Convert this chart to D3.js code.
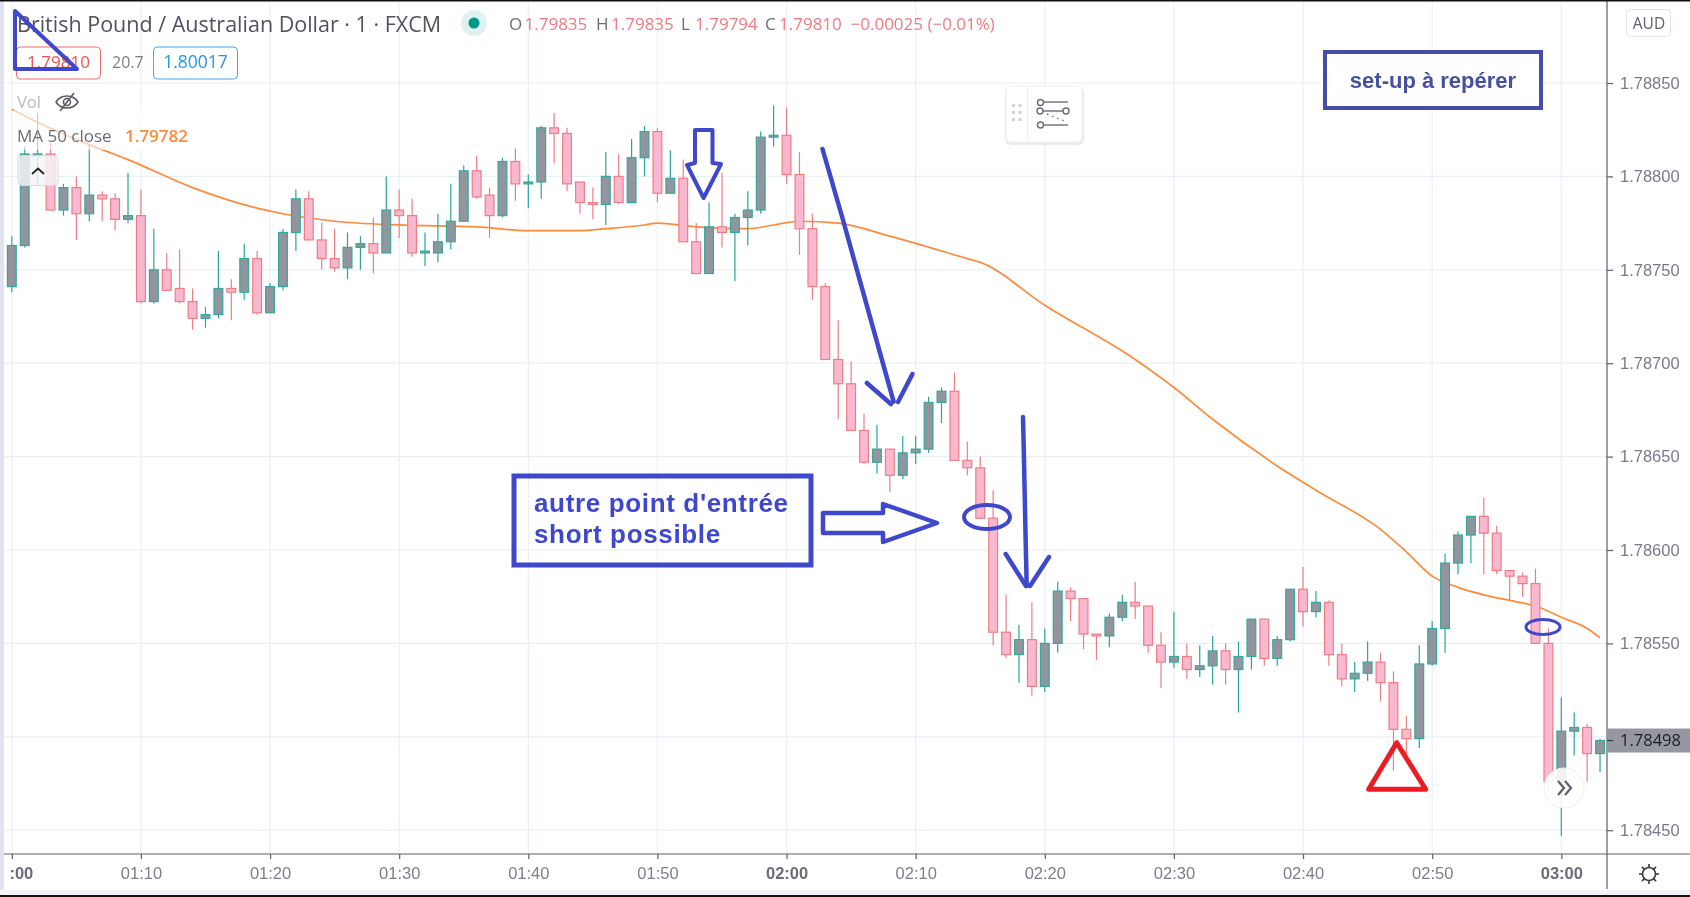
<!DOCTYPE html>
<html><head><meta charset="utf-8">
<script src="https://cdn.jsdelivr.net/npm/d3@7"></script>
<style>
html,body{margin:0;padding:0;background:#fff;overflow:hidden}
svg{display:block;font-family:"Open Sans","Noto Sans",sans-serif;filter:blur(0.35px)}
.axis path.domain{stroke:#5d606b;stroke-width:1.2}
.axis line{stroke:#5d606b;stroke-width:1.2}
</style></head><body>
<svg id="c" width="1690" height="897"></svg>
<script>
const opens=[1.78741,1.78763,1.78811,1.78812,1.78782,1.78794,1.78780,1.78790,1.78788,1.78777,
1.78779,1.78733,1.78750,1.78740,1.78733,1.78724,1.78726,1.78740,1.78738,1.78756,
1.78727,1.78741,1.78770,1.78788,1.78766,1.78756,1.78751,1.78762,1.78764,1.78759,
1.78782,1.78779,1.78759,1.78759,1.78765,1.78776,1.78803,1.78790,1.78779,1.78808,
1.78796,1.78797,1.78826,1.78823,1.78797,1.78786,1.78785,1.78800,1.78786,1.78810,
1.78824,1.78791,1.78799,1.78765,1.78748,1.78773,1.78770,1.78778,1.78782,1.78821,
1.78822,1.78801,1.78772,1.78741,1.78702,1.78689,1.78664,1.78647,1.78654,1.78640,
1.78652,1.78654,1.78679,1.78685,1.78648,1.78644,1.78617,1.78556,1.78544,1.78552,
1.78527,1.78550,1.78578,1.78574,1.78555,1.78554,1.78564,1.78572,1.78570,1.78549,
1.78540,1.78543,1.78536,1.78538,1.78546,1.78536,1.78543,1.78563,1.78542,1.78552,
1.78579,1.78567,1.78572,1.78544,1.78531,1.78534,1.78540,1.78529,1.78504,1.78499,
1.78539,1.78558,1.78593,1.78608,1.78618,1.78609,1.78589,1.78586,1.78582,1.78550,
1.78476,1.78503,1.78505,1.78491];
const highs=[1.78768,1.78816,1.78834,1.78818,1.78796,1.78800,1.78817,1.78792,1.78791,1.78802,
1.78793,1.78772,1.78759,1.78761,1.78740,1.78730,1.78760,1.78745,1.78764,1.78760,
1.78743,1.78772,1.78793,1.78792,1.78775,1.78772,1.78770,1.78768,1.78778,1.78800,
1.78793,1.78788,1.78770,1.78780,1.78796,1.78806,1.78811,1.78794,1.78810,1.78815,
1.78801,1.78827,1.78834,1.78826,1.78797,1.78794,1.78813,1.78812,1.78820,1.78827,
1.78826,1.78814,1.78809,1.78775,1.78786,1.78802,1.78780,1.78792,1.78824,1.78838,
1.78837,1.78813,1.78780,1.78743,1.78723,1.78701,1.78673,1.78667,1.78654,1.78661,
1.78661,1.78682,1.78687,1.78695,1.78658,1.78650,1.78632,1.78576,1.78560,1.78572,
1.78558,1.78583,1.78580,1.78574,1.78555,1.78566,1.78576,1.78583,1.78570,1.78556,
1.78567,1.78550,1.78549,1.78554,1.78550,1.78551,1.78563,1.78563,1.78554,1.78579,
1.78591,1.78578,1.78573,1.78550,1.78540,1.78551,1.78545,1.78535,1.78511,1.78549,
1.78562,1.78598,1.78610,1.78618,1.78628,1.78613,1.78589,1.78588,1.78590,1.78558,
1.78521,1.78513,1.78507,1.78499];
const lows=[1.78738,1.78762,1.78795,1.78782,1.78779,1.78766,1.78776,1.78776,1.78771,1.78775,
1.78732,1.78732,1.78739,1.78732,1.78718,1.78719,1.78724,1.78723,1.78734,1.78726,
1.78727,1.78739,1.78760,1.78766,1.78750,1.78749,1.78745,1.78750,1.78748,1.78759,
1.78767,1.78757,1.78752,1.78754,1.78761,1.78776,1.78788,1.78767,1.78778,1.78787,
1.78783,1.78788,1.78807,1.78792,1.78780,1.78777,1.78774,1.78785,1.78786,1.78800,
1.78786,1.78791,1.78765,1.78748,1.78748,1.78762,1.78744,1.78763,1.78780,1.78816,
1.78796,1.78758,1.78734,1.78702,1.78670,1.78664,1.78646,1.78641,1.78631,1.78638,
1.78646,1.78652,1.78668,1.78648,1.78640,1.78617,1.78549,1.78542,1.78529,1.78522,
1.78524,1.78545,1.78562,1.78547,1.78541,1.78548,1.78562,1.78563,1.78545,1.78526,
1.78537,1.78531,1.78532,1.78528,1.78528,1.78513,1.78536,1.78538,1.78538,1.78551,
1.78559,1.78564,1.78538,1.78527,1.78524,1.78530,1.78519,1.78482,1.78489,1.78494,
1.78538,1.78545,1.78587,1.78593,1.78587,1.78587,1.78573,1.78575,1.78550,1.78471,
1.78447,1.78490,1.78476,1.78481];
const closes=[1.78763,1.78812,1.78812,1.78782,1.78794,1.78780,1.78790,1.78788,1.78777,1.78779,
1.78733,1.78750,1.78739,1.78733,1.78724,1.78726,1.78740,1.78738,1.78756,1.78727,
1.78741,1.78770,1.78788,1.78766,1.78756,1.78751,1.78762,1.78764,1.78759,1.78782,
1.78779,1.78759,1.78760,1.78765,1.78776,1.78803,1.78789,1.78779,1.78808,1.78796,
1.78797,1.78826,1.78823,1.78796,1.78786,1.78785,1.78800,1.78786,1.78810,1.78824,
1.78791,1.78799,1.78765,1.78748,1.78773,1.78770,1.78778,1.78782,1.78821,1.78822,
1.78801,1.78772,1.78741,1.78702,1.78689,1.78664,1.78647,1.78654,1.78640,1.78652,
1.78654,1.78679,1.78685,1.78648,1.78644,1.78617,1.78556,1.78544,1.78552,1.78527,
1.78550,1.78578,1.78574,1.78555,1.78554,1.78564,1.78572,1.78570,1.78549,1.78540,
1.78543,1.78536,1.78538,1.78546,1.78536,1.78543,1.78563,1.78542,1.78552,1.78579,
1.78567,1.78572,1.78544,1.78531,1.78534,1.78540,1.78529,1.78504,1.78499,1.78539,
1.78558,1.78593,1.78608,1.78618,1.78609,1.78589,1.78586,1.78582,1.78550,1.78476,
1.78503,1.78505,1.78491,1.78498];
const maMinutes=[0,2,6,9,14,19,21,25,30,36,40,44,46,49,50,53,57,59,61,64,68,74,75,80,87,90,93,98,101,106,108,110,112,114,116,118,120,122,123];
const maValues=[1.78836,1.78829,1.78817,1.78809,1.78794,1.78783,1.78780,1.78776,1.78774,1.78773,1.78771,1.78771,1.78772,1.78774,1.78775,1.78773,1.78772,1.78774,1.78776,1.78775,1.78768,1.78756,1.78754,1.78731,1.78702,1.78687,1.78670,1.78645,1.78632,1.78611,1.78599,1.78586,1.78580,1.78576,1.78573,1.78570,1.78564,1.78558,1.78553];
const gridPrices=[1.7885,1.788,1.7875,1.787,1.7865,1.786,1.7855,1.785,1.7845];
const priceAxisTicks=[1.7885,1.788,1.7875,1.787,1.7865,1.786,1.7855,1.7845];
const timeTickMinutes=[0,10,20,30,40,50,60,70,80,90,100,110,120];
const timeTickLabels=[":00","01:10","01:20","01:30","01:40","01:50","02:00","02:10","02:20","02:30","02:40","02:50","03:00"];
const boldTimeLabels=[":00","02:00","03:00"];
const lastPrice=1.78498;

const BLUE="#3f48cc",UP="#26a69a",DOWN="#ef7d84",UPF="#93959e",DOWNF="#f8b8d0",GRID="#e9f0f6";
const PLOT_R=1607,AXIS_Y=854;
const x=d3.scaleLinear().domain([0,120]).range([11.8,1561.3]);
const y=d3.scaleLinear().domain([1.786,1.7885]).range([550,83]);
const svg=d3.select("#c");
svg.append("rect").attr("width",1690).attr("height",897).attr("fill","#fff");

// grid
const grid=svg.append("g").attr("stroke",GRID).attr("stroke-width",1.2);
grid.selectAll(".v").data(timeTickMinutes).join("line").attr("x1",d=>x(d)).attr("x2",d=>x(d)).attr("y1",2).attr("y2",AXIS_Y);
grid.selectAll(".h").data(gridPrices).join("line").attr("x1",4).attr("x2",PLOT_R).attr("y1",d=>y(d)).attr("y2",d=>y(d));

// moving average (behind the candles)
svg.append("path").datum(maMinutes.map((m,i)=>[m,maValues[i]]))
  .attr("fill","none").attr("stroke","#ff8a3c").attr("stroke-width",1.7)
  .attr("d",d3.line().x(d=>x(d[0])).y(d=>y(d[1])).curve(d3.curveMonotoneX));

// candles
const bars=opens.map((o,i)=>({i,o,h:highs[i],l:lows[i],c:closes[i],up:closes[i]>=o}));
const g=svg.append("g");
g.selectAll(".wick").data(bars).join("line")
  .attr("x1",d=>x(d.i)).attr("x2",d=>x(d.i)).attr("y1",d=>y(d.h)).attr("y2",d=>y(d.l))
  .attr("stroke",d=>d.up?UP:DOWN).attr("stroke-width",1.2);
g.selectAll(".body").data(bars).join("rect")
  .attr("x",d=>x(d.i)-4.4).attr("width",8.8)
  .attr("y",d=>y(Math.max(d.o,d.c)))
  .attr("height",d=>Math.max(1.2,Math.abs(y(d.o)-y(d.c))))
  .attr("fill",d=>d.up?UPF:DOWNF).attr("stroke",d=>d.up?"#35a89c":DOWN).attr("stroke-width",1.2);

// axes
svg.append("rect").attr("x",PLOT_R).attr("y",0).attr("width",83).attr("height",897).attr("fill","#fff");
svg.append("rect").attr("x",0).attr("y",AXIS_Y).attr("width",PLOT_R).attr("height",43).attr("fill","#fff");
const yAxis=d3.axisRight(y).tickValues(priceAxisTicks).tickFormat(d3.format(".5f")).tickSize(6).tickPadding(7);
const ya=svg.append("g").attr("class","axis").attr("transform",`translate(${PLOT_R},0)`).call(yAxis);
ya.select(".domain").attr("d",`M0,1V889`);
ya.selectAll("text").attr("fill","#787b86").style("font-size","16.5px");
const xAxis=d3.axisBottom(x).tickValues(timeTickMinutes).tickFormat((d,i)=>timeTickLabels[i]).tickSize(5).tickPadding(8);
const xa=svg.append("g").attr("class","axis").attr("transform",`translate(0,${AXIS_Y})`).call(xAxis);
xa.select(".domain").attr("d",`M4,0H1690`);
xa.selectAll("text").attr("fill",d=>boldTimeLabels.includes(timeTickLabels[timeTickMinutes.indexOf(d)])?"#6a6d78":"#7c7f8a")
  .attr("font-weight",d=>boldTimeLabels.includes(timeTickLabels[timeTickMinutes.indexOf(d)])?700:400).style("font-size","16.5px");
xa.selectAll("text").filter(d=>d===0).attr("text-anchor","end").attr("x",21);

// last price label
svg.append("rect").attr("x",PLOT_R).attr("y",y(lastPrice)-12).attr("width",83).attr("height",24).attr("fill","#9598a1");
svg.append("line").attr("x1",PLOT_R).attr("x2",PLOT_R+6).attr("y1",y(lastPrice)).attr("y2",y(lastPrice)).attr("stroke","#3a3d46").attr("stroke-width",1.2);
svg.append("text").attr("x",1620).attr("y",y(lastPrice)+5.5).attr("fill","#1a1d26").style("font-size","16.5px").text(d3.format(".5f")(lastPrice));

// chrome
svg.append("rect").attr("x",0).attr("y",0).attr("width",4).attr("height",897).attr("fill","#e0e3ef");
svg.append("rect").attr("x",0).attr("y",890).attr("width",1690).attr("height",5).attr("fill","#f0f3fa");
svg.append("rect").attr("x",0).attr("y",895).attr("width",1690).attr("height",2).attr("fill","#111");
svg.append("rect").attr("x",0).attr("y",0).attr("width",1690).attr("height",1.5).attr("fill","#111");

// AUD button
svg.append("rect").attr("x",1626.5).attr("y",9.5).attr("width",44).attr("height",27).attr("rx",4).attr("fill","#fff").attr("stroke","#dfe3ee");
svg.append("text").attr("x",1649).attr("y",29).attr("text-anchor","middle").attr("fill","#5d606b").style("font-size","15.5px").text("AUD");

// gear
const gear=svg.append("g").attr("transform","translate(1649,874)").attr("fill","none").attr("stroke","#3a3d46").attr("stroke-width",1.6);
gear.append("circle").attr("r",6.5);
d3.range(8).forEach(k=>{const a=k*Math.PI/4;gear.append("line").attr("x1",6.5*Math.cos(a)).attr("y1",6.5*Math.sin(a)).attr("x2",10*Math.cos(a)).attr("y2",10*Math.sin(a));});

// legend
const T=(xp,yp,s,f,sz,extra)=>{const t=svg.append("text").attr("x",xp).attr("y",yp).attr("fill",f).style("font-size",sz+"px").text(s);if(extra)extra(t);return t;};
svg.append("rect").attr("x",14).attr("y",108).attr("width",180).attr("height",42).attr("fill","#fff").attr("opacity",0.6);
T(17,32,"British Pound / Australian Dollar · 1 · FXCM","#50535e",21.5);
svg.append("circle").attr("cx",474).attr("cy",23).attr("r",13).attr("fill","#e0f2ef");
svg.append("circle").attr("cx",474).attr("cy",23).attr("r",5.5).attr("fill","#009688");
const R="#ef7b83",G="#6a6d78";
[["O",509,G],["1.79835",524.5,R],["H",596,G],["1.79835",611,R],["L",681,G],["1.79794",695,R],["C",765,G],["1.79810",779,R],["−0.00025 (−0.01%)",850.5,R]]
  .forEach(a=>T(a[1],30,a[0],a[2],17));
svg.append("rect").attr("x",16.5).attr("y",47).attr("width",84).attr("height",32).attr("rx",4).attr("fill","#fff").attr("stroke","#ef5350").attr("stroke-opacity",.85);
T(58.5,68,"1.79810","#ef5350",17,t=>t.attr("text-anchor","middle"));
T(112,68,"20.7","#7c7f8a",16);
svg.append("rect").attr("x",153.5).attr("y",47).attr("width",84).attr("height",32).attr("rx",4).attr("fill","#fff").attr("stroke","#2196f3").attr("stroke-opacity",.85);
T(195.5,68,"1.80017","#2196f3",17.5,t=>t.attr("text-anchor","middle"));
T(17,108,"Vol","#b6b9c2",16.5);
const eye=svg.append("g").attr("transform","translate(67,102)").attr("fill","none").attr("stroke","#55585f").attr("stroke-width",1.5);
eye.append("path").attr("d","M-11,0C-6,-8 6,-8 11,0C6,8 -6,8 -11,0Z");
eye.append("circle").attr("r",3.5);
eye.append("line").attr("x1",-7).attr("y1",9).attr("x2",7).attr("y2",-9);
T(17,142,"MA 50 close","#6a6d78",17);
T(125,142,"1.79782","#ff8a3c",17,t=>t.attr("font-weight",600));
svg.append("rect").attr("x",18).attr("y",155.5).attr("width",40).attr("height",30).attr("rx",4).attr("fill","#f4f5f7").attr("fill-opacity",.82).attr("stroke","#d8dae0");
svg.append("path").attr("d","M32,174L38,168.5L44,174").attr("fill","none").attr("stroke","#222").attr("stroke-width",1.8);

// settings panel
svg.append("rect").attr("x",1005).attr("y",87).attr("width",79).attr("height",58).attr("rx",6).attr("fill","#000").attr("opacity",.08);
svg.append("rect").attr("x",1006).attr("y",86).attr("width",76).attr("height",56).attr("rx",5).attr("fill","#fff").attr("stroke","#f0f1f4");
svg.append("line").attr("x1",1027.5).attr("x2",1027.5).attr("y1",86).attr("y2",142).attr("stroke","#eceef2");
d3.range(3).forEach(r=>d3.range(2).forEach(c=>svg.append("rect").attr("x",1012+c*6.5).attr("y",104+r*7).attr("width",3).attr("height",3).attr("fill","#d2d4da")));
const ic=svg.append("g").attr("fill","#fff").attr("stroke","#6a6d78").attr("stroke-width",1.4);
ic.append("line").attr("x1",1043).attr("x2",1068).attr("y1",102).attr("y2",102);
ic.append("line").attr("x1",1043).attr("x2",1065).attr("y1",111).attr("y2",111);
ic.append("line").attr("x1",1043).attr("x2",1068).attr("y1",125).attr("y2",125);
ic.append("line").attr("x1",1047).attr("x2",1067).attr("y1",114).attr("y2",122).attr("stroke-dasharray","1.5 4");
[[1040.5,102.5],[1040,111],[1066,111],[1040.5,125]].forEach(p=>ic.append("circle").attr("cx",p[0]).attr("cy",p[1]).attr("r",3));

// scroll-right button
svg.append("circle").attr("cx",1564).attr("cy",788).attr("r",20).attr("fill","#fff").attr("fill-opacity",.88).attr("stroke","#eef0f3");
svg.append("path").attr("d","M1558,781L1564,788L1558,795M1565,781L1571,788L1565,795").attr("fill","none").attr("stroke","#5d606b").attr("stroke-width",2.2);

// hand-drawn annotations
const ann=svg.append("g").attr("fill","none").attr("stroke",BLUE).attr("stroke-linecap","round").attr("stroke-linejoin","round");
const P=(d,w,c)=>ann.append("path").attr("d",d).attr("stroke-width",w).attr("stroke",c||BLUE);
P("M15,11L15,69L77,69Z",4);
P("M695,163L695,130L712.5,130L712.5,163L721,164L703.6,198L687,165Z",4);
P("M822.5,149L843,220L893.6,401.7",4.5);
P("M866.8,383L891,404M898,402L912.5,374",4.5);
P("M1023,417L1024,460L1025.7,543L1026.7,586",4.5);
P("M1005.7,554L1026,586M1030,586L1049,557",4.5);
P("M823,513L883,513L883,504L937,523L883,542L883,533L823,533Z",4.5);
ann.append("ellipse").attr("cx",987).attr("cy",517).attr("rx",23).attr("ry",12).attr("stroke-width",4);
ann.append("ellipse").attr("cx",1543).attr("cy",627).attr("rx",17).attr("ry",7.5).attr("stroke-width",3);
P("M1396.7,742.7L1368.7,789.3L1425.7,789.3Z",5,"#ed1c24");

svg.append("rect").attr("x",514).attr("y",476).attr("width",297).attr("height",89).attr("fill","none").attr("stroke",BLUE).attr("stroke-width",5);
const arial='"Liberation Sans",Arial,sans-serif';
[["autre point d'entrée",512],["short possible",543]].forEach(a=>
  svg.append("text").attr("x",534).attr("y",a[1]).attr("fill",BLUE).attr("font-weight",700).style("font-family",arial).style("font-size","26px").style("letter-spacing","0.65px").text(a[0]));
svg.append("rect").attr("x",1325).attr("y",52).attr("width",216).attr("height",56).attr("fill","#fff").attr("fill-opacity",.9).attr("stroke","#444ea8").attr("stroke-width",4);
svg.append("text").attr("x",1433).attr("y",87.5).attr("text-anchor","middle").attr("fill","#474fa0").attr("font-weight",700).style("font-family",arial).style("font-size","22px").text("set-up à repérer");
</script></body></html>
